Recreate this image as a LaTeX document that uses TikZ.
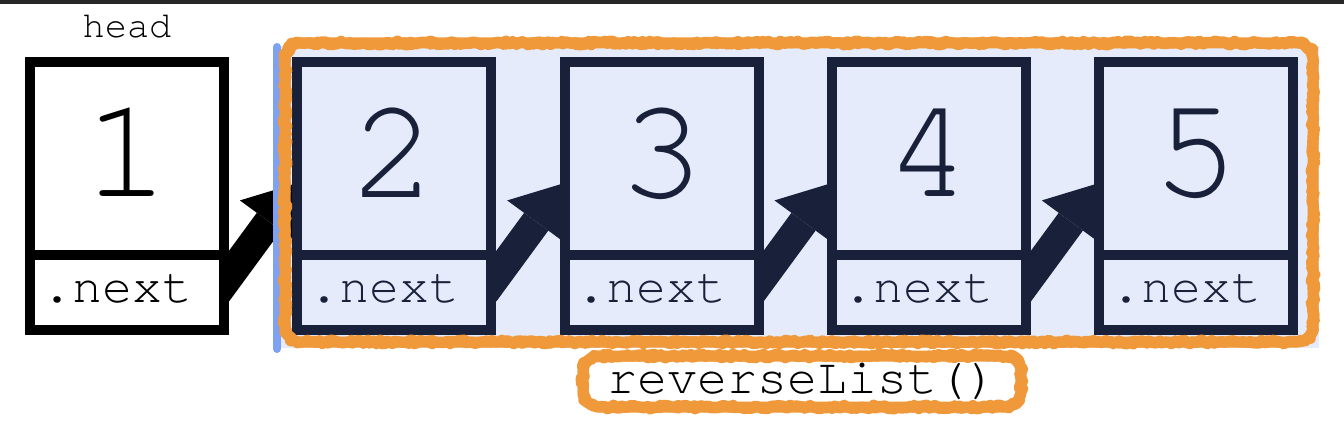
\documentclass[tikz,border=0pt]{standalone}
\usepackage{fontspec}
\usetikzlibrary{arrows.meta,positioning,backgrounds,decorations.pathmorphing}
\newfontfamily\codefont{texgyrecursor-regular.otf}
\definecolor{navy}{HTML}{19213A}
\definecolor{listbg}{HTML}{E5EBFB}
\definecolor{crayon}{HTML}{F0993A}
\definecolor{divider}{HTML}{7EA1F1}
\definecolor{topbar}{HTML}{262626}

\begin{document}
\begin{tikzpicture}[x=1pt,y=-1pt,
  val/.style={draw,line width=10pt,outer sep=0pt,minimum width=194pt,minimum height=193pt,
    inner sep=0pt,text depth=12pt,font=\codefont\fontsize{145}{150}\selectfont},
  ptr/.style={draw,line width=10pt,outer sep=0pt,minimum width=194pt,minimum height=75pt,
    inner xsep=12pt,inner ysep=0pt,text width=170pt,align=left,text depth=8pt,
    font=\codefont\fontsize{50}{54}\selectfont},
  link/.style={line width=30pt,-{Triangle[length=48pt,width=72pt,line width=0pt]}},
  rough/.style={draw=crayon,line width=11pt,rounded corners=16pt,
    postaction={draw=crayon,line width=11pt,sharp corners,line join=round,decorate,
      decoration={random steps,segment length=2.5pt,amplitude=2pt}}}]
\pgfmathsetseed{7}
\useasboundingbox (0,0) rectangle (1344,422);
\fill[topbar] (0,0) rectangle (1344,4);

% the list
\node[val,fill=white] (n1) at (127,158.5) {1};
\node[ptr,fill=white,below=0pt of n1] (nx1) {.next};
\foreach \i/\x in {2/394.3,3/661.6,4/928.9,5/1196.2}{
  \node[val,draw=navy,text=navy,fill=listbg] (n\i) at (\x,158.5) {\i};
  \node[ptr,draw=navy,text=navy,fill=listbg,below=0pt of n\i] (nx\i) {.next};
}
\node[inner sep=0pt,above=24pt of n1,font=\codefont\fontsize{37}{40}\selectfont] (head) {head};

\begin{scope}[on background layer]
\fill[listbg] (280,46) rectangle (1319,348);
\draw[link] ([xshift=-7pt]nx1.east) -- ([yshift=-24.5pt]n2.west);
\foreach \i/\j in {2/3,3/4,4/5}
  \draw[link,navy] ([xshift=-7pt]nx\i.east) -- ([yshift=-24.5pt]n\j.west);
\end{scope}

\draw[divider,line width=8pt,line cap=round] (277,47) -- (277,349);
\draw[rough] (285,43) rectangle (1313,342);
\node[rough,minimum width=438pt,minimum height=51pt,inner sep=0pt,
  font=\codefont\fontsize{50}{54}\selectfont] (call) at (802,381.5) {reverseList()};
\end{tikzpicture}
\end{document}
